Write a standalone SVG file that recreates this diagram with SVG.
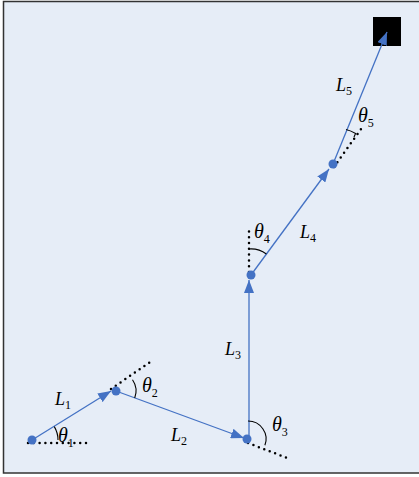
<svg xmlns="http://www.w3.org/2000/svg" width="419" height="477" viewBox="0 0 419 477">
<style>
.link{stroke:#4472c4;stroke-width:1.3;fill:none;marker-end:url(#ah)}
.joint{fill:#4472c4}
.dots{stroke:#000;stroke-width:2.5;stroke-dasharray:0 5.8;stroke-linecap:round;fill:none}
.arc{stroke:#000;stroke-width:1.1;fill:none}
.lbl{font-family:"Liberation Serif","Times New Roman",serif;font-style:italic;font-size:18px;fill:#000}
.th{font-size:20px}
.sub{font-style:normal;font-size:12px}
</style>
<defs>
<marker id="ah" viewBox="0 0 13 10" refX="13" refY="5" markerWidth="13" markerHeight="10" markerUnits="userSpaceOnUse" orient="auto">
<path d="M0,0 L13,5 L0,10 z" fill="#4472c4"/>
</marker>
</defs>
<rect x="3.5" y="1.5" width="430" height="471.5" fill="#e6edf7" stroke="#333" stroke-width="1.5"/>
<g id="guides">
<line class="dots" x1="28" y1="443" x2="88" y2="443"/>
<line class="dots" x1="111" y1="389" x2="153" y2="360"/>
<line class="dots" x1="248" y1="443" x2="290" y2="459"/>
<line class="dots" x1="249" y1="272" x2="249" y2="227"/>
<line class="dots" x1="334" y1="167" x2="361" y2="129"/>
</g>
<g id="end-effector"><rect x="373" y="17" width="28" height="29" fill="#000"/></g>
<g id="connectors">
<line class="link" x1="32" y1="440" x2="111" y2="391"/>
<line class="link" x1="116" y1="391" x2="244" y2="438"/>
<line class="link" x1="249" y1="439" x2="249" y2="280"/>
<line class="link" x1="251" y1="275" x2="329" y2="169"/>
<line class="link" x1="333" y1="164" x2="387" y2="32"/>
</g>
<g id="joint1"><circle class="joint" cx="32" cy="440" r="4.5"/><path class="arc" d="M54.3,426.6 A26,26 0 0 1 58,440"/>
<text class="lbl th" x="58" y="442">θ<tspan class="sub" dy="5">1</tspan></text>
<text class="lbl" x="55" y="405">L<tspan class="sub" dy="4">1</tspan></text></g>
<g id="joint2"><circle class="joint" cx="116" cy="391" r="4.5"/><path class="arc" d="M132.5,379.7 A20,20 0 0 1 134.7,398"/>
<text class="lbl th" x="142" y="392">θ<tspan class="sub" dy="5">2</tspan></text>
<text class="lbl" x="171" y="441">L<tspan class="sub" dy="4">2</tspan></text></g>
<g id="joint3"><circle class="joint" cx="247" cy="439" r="4.5"/><path class="arc" d="M248,421 A18,18 0 0 1 264.9,445.3"/>
<text class="lbl th" x="272" y="431">θ<tspan class="sub" dy="5">3</tspan></text>
<text class="lbl" x="225" y="355">L<tspan class="sub" dy="4">3</tspan></text></g>
<g id="joint4"><circle class="joint" cx="251" cy="275" r="4.5"/><path class="arc" d="M249,249 A26,26 0 0 1 266.4,254"/>
<text class="lbl th" x="254" y="238">θ<tspan class="sub" dy="5">4</tspan></text>
<text class="lbl" x="300" y="238">L<tspan class="sub" dy="4">4</tspan></text></g>
<g id="joint5"><circle class="joint" cx="333" cy="164" r="4.5"/><path class="arc" d="M346,129.5 A38,38 0 0 1 355.6,133.4 L354,137"/>
<text class="lbl th" x="358" y="122">θ<tspan class="sub" dy="5">5</tspan></text>
<text class="lbl" x="336" y="91">L<tspan class="sub" dy="4">5</tspan></text></g>
</svg>
